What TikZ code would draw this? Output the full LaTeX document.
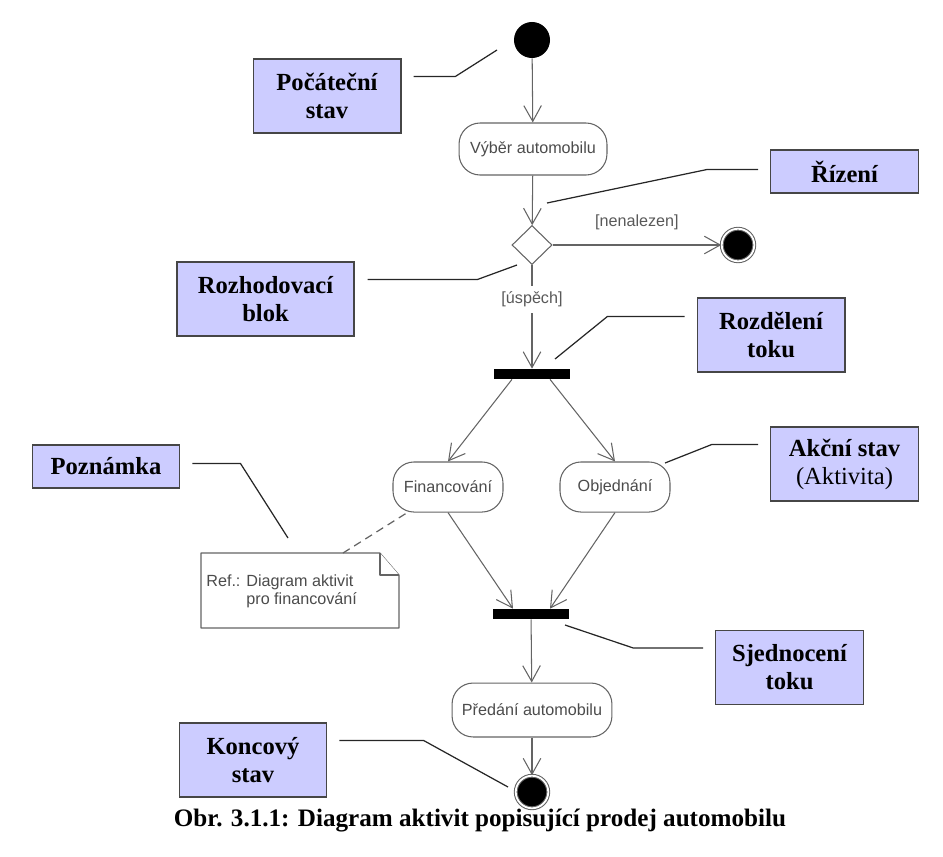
\documentclass[tikz,border=0pt]{standalone}
\usepackage{fontspec}
\setmainfont{Liberation Serif}
\newfontfamily\umlfont{Liberation Sans}
\usetikzlibrary{shapes.geometric, arrows.meta}

\definecolor{boxfill}{RGB}{204,204,255}
\definecolor{boxline}{RGB}{70,70,70}
\definecolor{umlgray}{RGB}{100,100,100}

\tikzset{
    lbox/.style={rectangle, draw=boxline, fill=boxfill, line width=0.8pt, minimum width=84pt, align=center, font=\fontsize{14}{16}\selectfont\bfseries},
    tall/.style={minimum height=42pt},
    short/.style={minimum height=24.5pt},
    leader/.style={draw=black!85, line width=0.7pt},
    action/.style={rectangle, rounded corners=12pt, draw=umlgray, fill=white, line width=0.6pt, text=black!70, font=\umlfont\fontsize{9.2}{11}\selectfont},
    flow/.style={draw=umlgray, line width=0.6pt, -{Straight Barb[length=9pt, width=10pt]}},
    guard/.style={text=black!65, font=\umlfont\fontsize{9.2}{11}\selectfont},
    syncbar/.style={rectangle, fill=black, minimum width=42.7pt, minimum height=5.7pt, inner sep=0pt},
    initnode/.style={circle, fill=black, minimum size=20.5pt, inner sep=0pt},
    finalnode/.style={circle, fill=black, draw=umlgray, double=white, double distance=1pt, line width=0.6pt, minimum size=18.5pt, inner sep=0pt},
    decision/.style={diamond, draw=umlgray, fill=white, line width=0.6pt, minimum width=22.8pt, minimum height=22.2pt, inner sep=0pt},
    notebox/.style={draw=umlgray, fill=white, line width=0.6pt, line join=round},
    notelink/.style={draw=umlgray, line width=0.7pt, dash pattern=on 4.5pt off 3pt}
}

\begin{document}
\begin{tikzpicture}[x=0.02cm, y=-0.02cm]
    \useasboundingbox (0,0) rectangle (943,856);

    % Define activity nodes
    \node (init) at (532,40) [initnode] {};
    \node (vyber) at (533,149) [action, minimum width=84.2pt, minimum height=29.6pt] {Výběr automobilu};
    \node (dec) at (532,245) [decision] {};
    \node (end1) at (738,245) [finalnode] {};
    \node (fork) at (532,374) [syncbar] {};
    \node (fin) at (448,487) [action, minimum width=62.6pt, minimum height=28.5pt] {Financování};
    \node (obj) at (615,487) [action, minimum width=62.6pt, minimum height=28.5pt] {Objednání};
    \node (join) at (531,614) [syncbar] {};
    \node (pred) at (532,710) [action, minimum width=91pt, minimum height=30.7pt] {Předání automobilu};
    \node (end2) at (532,792) [finalnode] {};

    % Note
    \draw[notebox] (201,553) -- (380,553) -- (399,575) -- (399,628) -- (201,628) -- cycle;
    \draw[notebox] (380,553) -- (380,575) -- (399,575);
    \node (notetext) at (206,591) [anchor=west, inner sep=0pt, align=left, text=black!70, font=\umlfont\fontsize{9.2}{10.3}\selectfont] {Ref.: Diagram aktivit\\\hspace*{22.8pt}pro financování};
    \coordinate (notetop) at (343,553);

    % Define label boxes
    \node (lpoc) at (327,96) [lbox, tall] {Počáteční\\stav};
    \node (lriz) at (844.5,171.5) [lbox, short] {Řízení};
    \node (lroz) at (265.5,299) [lbox, tall, minimum width=100.7pt] {Rozhodovací\\blok};
    \node (lrdl) at (771,335) [lbox, tall] {Rozdělení\\toku};
    \node (lakc) at (844.5,464) [lbox, tall] {Akční stav\\{\mdseries (Aktivita)}};
    \node (lpoz) at (106,466.5) [lbox, short] {Poznámka};
    \node (lsje) at (789.5,667.5) [lbox, tall] {Sjednocení\\toku};
    \node (lkon) at (253,760) [lbox, tall] {Koncový\\stav};

    % Leader targets
    \coordinate (tpoc) at (497,50);
    \coordinate (triz) at (547,203);
    \coordinate (troz) at (517,265);
    \coordinate (trdl) at (555,359);
    \coordinate (takc) at (665,463);
    \coordinate (tpoz) at (288,538);
    \coordinate (tsje) at (565,625);
    \coordinate (tkon) at (508,787);

    % Draw arrows
    \draw[flow] (init) -- (vyber);
    \draw[flow] (vyber) -- (dec);
    \draw[flow] (dec) -- node[guard, above=5pt] {[nenalezen]} (end1);
    \draw[flow] (dec) -- node[guard, pos=0.33, fill=white] {[úspěch]} (fork);
    \draw[flow] ([shift={(-20,0)}]fork.south) -- (fin.north);
    \draw[flow] ([shift={(18,0)}]fork.south) -- (obj.north);
    \draw[flow] (fin.south) -- ([shift={(-18,0)}]join.north);
    \draw[flow] (obj.south) -- ([shift={(19,0)}]join.north);
    \draw[flow] (join) -- (pred);
    \draw[flow] (pred) -- (end2);
    \draw[notelink] (notetop) -- (fin);

    % Draw leaders
    \draw[leader] (lpoc.north east) ++(12,18) -- ++(42,0) -- (tpoc);
    \draw[leader] (lriz.west) ++(-12,-2) -- ++(-51,0) -- (triz);
    \draw[leader] (lroz.north east) ++(13,18) -- ++(110,0) -- (troz);
    \draw[leader] (lrdl.north west) ++(-12,19) -- ++(-77,0) -- (trdl);
    \draw[leader] (lakc.north west) ++(-12,18) -- ++(-46,0) -- (takc);
    \draw[leader] (lpoz.east) ++(12,-3) -- ++(48,0) -- (tpoz);
    \draw[leader] (lsje.north west) ++(-12,18) -- ++(-70,0) -- (tsje);
    \draw[leader] (lkon.north east) ++(12,18) -- ++(84,0) -- (tkon);

    % Caption
    \node (caption) at (480,826) [anchor=base, font=\fontsize{14.3}{16}\selectfont\bfseries] {Obr. 3.1.1: Diagram aktivit popisující prodej automobilu};
\end{tikzpicture}
\end{document}
